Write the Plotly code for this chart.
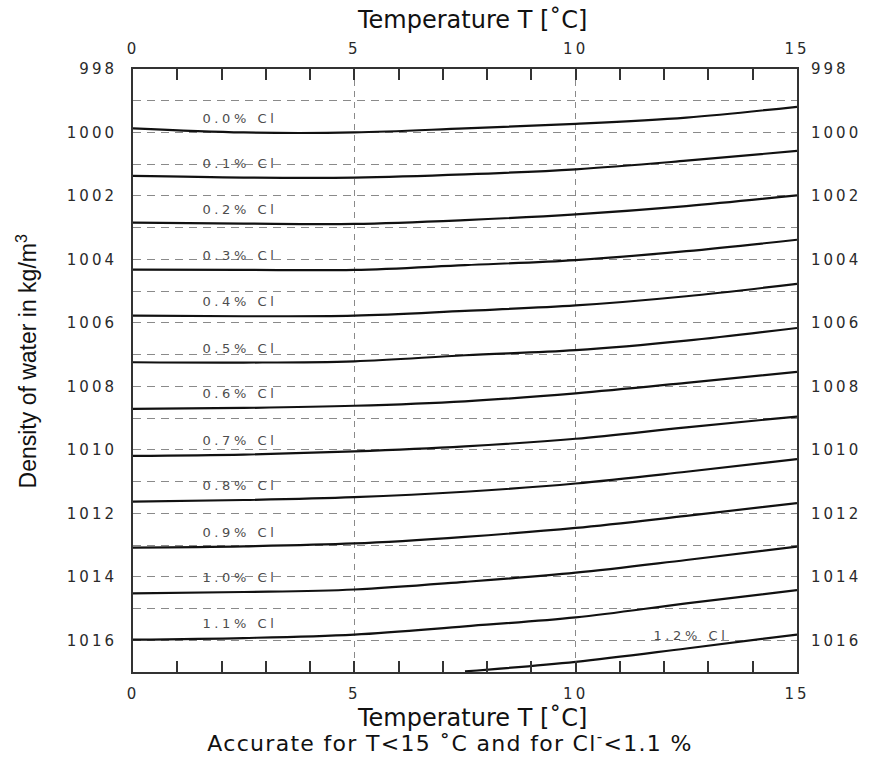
import plotly.graph_objects as go

# ---- data ----
temperature = [0, 2.5, 5, 7.5, 10, 12.5, 15]
chloride_labels = ["0.0% Cl", "0.1% Cl", "0.2% Cl", "0.3% Cl", "0.4% Cl", "0.5% Cl",
                   "0.6% Cl", "0.7% Cl", "0.8% Cl", "0.9% Cl", "1.0% Cl", "1.1% Cl", "1.2% Cl"]
density_cl00 = [999.87, 1000.00, 1000.00, 999.87, 999.73, 999.53, 999.19]
density_cl01 = [1001.37, 1001.42, 1001.42, 1001.32, 1001.16, 1000.89, 1000.58]
density_cl02 = [1002.84, 1002.87, 1002.88, 1002.76, 1002.58, 1002.32, 1001.98]
density_cl03 = [1004.32, 1004.33, 1004.33, 1004.18, 1004.02, 1003.74, 1003.38]
density_cl04 = [1005.77, 1005.79, 1005.77, 1005.62, 1005.45, 1005.16, 1004.77]
density_cl05 = [1007.24, 1007.25, 1007.21, 1007.02, 1006.86, 1006.56, 1006.16]
density_cl06 = [1008.71, 1008.68, 1008.61, 1008.47, 1008.22, 1007.89, 1007.54]
density_cl07 = [1010.19, 1010.15, 1010.05, 1009.89, 1009.65, 1009.29, 1008.95]
density_cl08 = [1011.63, 1011.58, 1011.49, 1011.32, 1011.06, 1010.69, 1010.29]
density_cl09 = [1013.08, 1013.04, 1012.95, 1012.74, 1012.46, 1012.08, 1011.68]
density_cl10 = [1014.52, 1014.48, 1014.40, 1014.16, 1013.87, 1013.47, 1013.05]
density_cl11 = [1015.98, 1015.93, 1015.82, 1015.56, 1015.28, 1014.84, 1014.42]
density_cl12 = [None, None, None, 1016.98, 1016.68, 1016.26, 1015.82]

series = [density_cl00, density_cl01, density_cl02, density_cl03, density_cl04,
          density_cl05, density_cl06, density_cl07, density_cl08, density_cl09,
          density_cl10, density_cl11, density_cl12]

x_tickvals = [0, 5, 10, 15]
y_tickvals = [998, 1000, 1002, 1004, 1006, 1008, 1010, 1012, 1014, 1016]

x_range = [0, 15]
y_range = [1017, 998]

fig = go.Figure()
for name, vals in zip(chloride_labels, series):
    fig.add_trace(go.Scatter(
        x=temperature, y=vals, mode="lines", name=name,
        line=dict(color="#111111", width=2.2, shape="spline", smoothing=1.0),
        showlegend=False, hoverinfo="skip"))

# invisible trace to carry the top / right axes
fig.add_trace(go.Scatter(x=temperature, y=density_cl00, xaxis="x2", yaxis="y2",
                         mode="lines", line=dict(color="rgba(0,0,0,0)"),
                         showlegend=False, hoverinfo="skip"))

# curve labels
annotations = []
for i, (name, vals) in enumerate(zip(chloride_labels, series)):
    if i < 12:
        lx, ly = 2.42, vals[1] - 0.45
    else:
        lx, ly = 12.6, vals[5] - 0.42
    annotations.append(dict(x=lx, y=ly, xref="x", yref="y", text=name, showarrow=False,
                            font=dict(family="DejaVu Sans", size=13, color="#4d4d4d"),
                            xanchor="center", yanchor="middle"))
n_curve_labels = len(annotations)

title_font = dict(family="DejaVu Sans", size=24, color="#111111")
annotations += [
    dict(x=0.5105, y=1, xref="paper", yref="paper", text="Temperature T [˚C]",
         showarrow=False, font=title_font, xanchor="center", yanchor="middle", yshift=49),
    dict(x=0.5105, y=0, xref="paper", yref="paper", text="Temperature T [˚C]",
         showarrow=False, font=title_font, xanchor="center", yanchor="middle", yshift=-46),
    dict(x=0.477, y=0, xref="paper", yref="paper",
         text="Accurate for T&lt;15 ˚C and for Cl<sup>-</sup>&lt;1.1 %",
         showarrow=False, font=dict(family="DejaVu Sans", size=22, color="#111111"),
         xanchor="center", yanchor="middle", yshift=-70),
    dict(x=0, y=0.515, xref="paper", yref="paper", text="Density of water in kg/m<sup>3</sup>",
         showarrow=False, font=dict(family="Liberation Sans", size=23, color="#111111"),
         textangle=-90, xanchor="center", yanchor="middle", xshift=-106),
]
n_sub = n_curve_labels + 2

tick_font = dict(family="DejaVu Sans", size=15, color="#2a2a2a")
grid_col = "#8a8a8a"

xaxis_common = dict(
    range=x_range, tickvals=x_tickvals, ticktext=[str(v) for v in x_tickvals],
    ticks="inside", ticklen=11, tickwidth=1.6, tickcolor="#333333",
    showline=True, linecolor="#333333", linewidth=2,
    zeroline=False, tickfont=tick_font, ticklabelstandoff=7,
    minor=dict(dtick=1, tick0=0, ticks="inside", ticklen=11, tickwidth=1.6,
               tickcolor="#333333", showgrid=False),
)
yaxis_common = dict(
    range=y_range, tickvals=y_tickvals, ticktext=[str(v) for v in y_tickvals],
    ticks="", showline=True, linecolor="#333333", linewidth=2,
    zeroline=False, tickfont=tick_font,
)

fig.update_layout(
    width=869, height=758,
    margin=dict(l=133, r=72, t=69, b=86),
    paper_bgcolor="white", plot_bgcolor="white",
    xaxis=dict(**xaxis_common, side="bottom", showgrid=True, gridcolor=grid_col,
               gridwidth=1.2, griddash="6px,5px"),
    xaxis2=dict(**xaxis_common, side="top", overlaying="x", anchor="y2", showgrid=False),
    yaxis=dict(**yaxis_common, side="left", ticklabelstandoff=11, showgrid=True,
               gridcolor=grid_col, gridwidth=1.2, griddash="8px,6px",
               minor=dict(dtick=1, tick0=998, showgrid=True, gridcolor=grid_col,
                          gridwidth=1.2, griddash="8px,6px", ticks="")),
    yaxis2=dict(**yaxis_common, side="right", ticklabelstandoff=9,
                overlaying="y", anchor="x2", showgrid=False),
    annotations=annotations,
    showlegend=False,
)

label_sel = ",".join('.annotation[data-index="%d"] text' % i for i in range(n_curve_labels))
css = ("body{margin:0;}"
       ".xtick text,.x2tick text,.ytick text,.y2tick text{letter-spacing:3px;}"
       + label_sel + "{letter-spacing:3.6px;}"
       + '.annotation[data-index="%d"] text{letter-spacing:1.3px;}' % n_sub)
post = ("var s=document.createElement('style');s.textContent=%r;"
        "document.head.appendChild(s);" % css)

fig.write_html("out.html", post_script=post, config={"displayModeBar": False})
